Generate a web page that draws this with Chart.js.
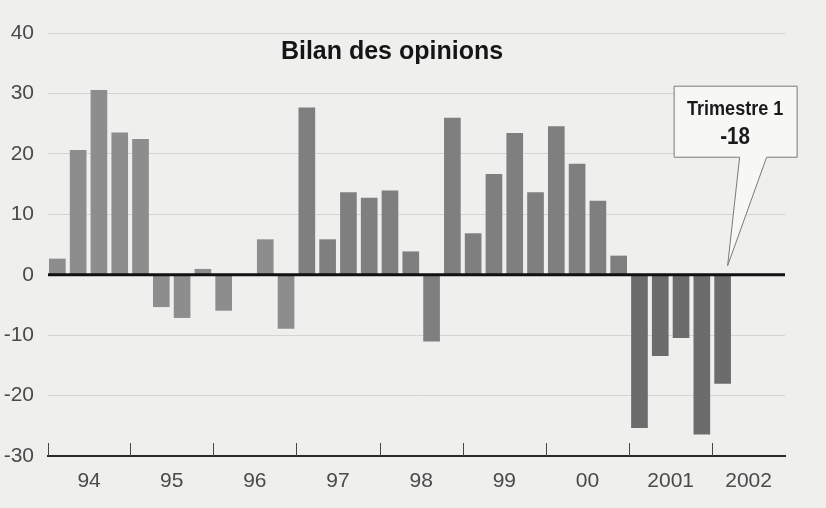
<!DOCTYPE html>
<html>
<head>
<meta charset="utf-8">
<title>Bilan des opinions</title>
<script src="https://cdn.jsdelivr.net/npm/chart.js@4/dist/chart.umd.min.js"></script>
<style>
  html, body { margin: 0; padding: 0; background: #efefed; }
  #wrap { width: 826px; height: 508px; }
</style>
</head>
<body>
<div id="wrap"><canvas id="barChart" width="826" height="508"></canvas></div>
<script>
'use strict'

// Quarters, 1994 T1 to 2002 T1
var quarters = [
  '94 T1', '94 T2', '94 T3', '94 T4',
  '95 T1', '95 T2', '95 T3', '95 T4',
  '96 T1', '96 T2', '96 T3', '96 T4',
  '97 T1', '97 T2', '97 T3', '97 T4',
  '98 T1', '98 T2', '98 T3', '98 T4',
  '99 T1', '99 T2', '99 T3', '99 T4',
  '00 T1', '00 T2', '00 T3', '00 T4',
  '2001 T1', '2001 T2', '2001 T3', '2001 T4',
  '2002 T1'
];

// Balance of opinions per quarter
var balance = [
  2.6, 20.6, 30.5, 23.5,
  22.4, -5.3, -7.1, 0.9,
  -5.9, 0, 5.8, -8.9,
  27.6, 5.8, 13.6, 12.7,
  13.9, 3.8, -11, 25.9,
  6.8, 16.6, 23.4, 13.6,
  24.5, 18.3, 12.2, 3.1,
  -25.3, -13.4, -10.4, -26.4,
  -18
];

// Year labels under the axis
var years = ['94', '95', '96', '97', '98', '99', '00', '2001', '2002'];

var yTicks = [-30, -20, -10, 0, 10, 20, 30, 40];

var calloutLines = ['Trimestre 1', '-18'];

var xMin = -0.45;
var xMax = 35;

// Year boundaries: every 4 quarters, plus the ends of the axis
var bounds = [xMin];
for (var i = 1; i < years.length; i++) bounds.push(i * 4 - 0.5);
bounds.push(xMax);

var yearCenters = years.map(function(_, i) { return (bounds[i] + bounds[i + 1]) / 2; });

function barColour(i) {
  if (i >= 28) return '#6c6c6c';
  if (i >= 12) return '#7f7f7f';
  return '#8d8d8d';
}

var font = "'Liberation Sans', Arial, sans-serif";

// draw text squeezed horizontally, like a condensed face
function narrowText(ctx, text, x, y, squeeze) {
  ctx.save();
  ctx.translate(x, y);
  ctx.scale(squeeze, 1);
  ctx.fillText(text, 0, 0);
  ctx.restore();
}

// Paper background, zero line, year ticks, title and callout
var decor = {
  id: 'decor',
  beforeDraw: function(chart) {
    var ctx = chart.ctx;
    ctx.save();
    ctx.fillStyle = '#efefed';
    ctx.fillRect(0, 0, chart.width, chart.height);
    ctx.restore();
  },
  afterDatasetsDraw: function(chart) {
    var ctx = chart.ctx;
    var x = chart.scales.x;
    var y = chart.scales.y;
    var area = chart.chartArea;

    ctx.save();

    // zero line
    ctx.strokeStyle = '#111';
    ctx.lineWidth = 3;
    ctx.beginPath();
    ctx.moveTo(area.left, y.getPixelForValue(0));
    ctx.lineTo(area.right, y.getPixelForValue(0));
    ctx.stroke();

    // year ticks, pointing up from the bottom axis
    ctx.strokeStyle = '#444';
    ctx.lineWidth = 1;
    for (var i = 0; i < bounds.length - 1; i++) {
      var px = Math.round(x.getPixelForValue(bounds[i])) + 0.5;
      ctx.beginPath();
      ctx.moveTo(px, area.bottom);
      ctx.lineTo(px, area.bottom - 13);
      ctx.stroke();
    }

    // title
    ctx.fillStyle = '#151515';
    ctx.font = 'bold 25px ' + font;
    ctx.textAlign = 'center';
    ctx.textBaseline = 'middle';
    ctx.fillText('Bilan des opinions', 392, 52);

    // callout pointing at the last quarter
    var tipX = x.getPixelForValue(quarters.length - 1) + 5;
    var tipY = y.getPixelForValue(0) - 9;
    var bx = tipX - 54, by = tipY - 180, bw = 123, bh = 71;

    ctx.fillStyle = '#f7f7f5';
    ctx.strokeStyle = '#7a7a7a';
    ctx.lineWidth = 1;
    ctx.beginPath();
    ctx.moveTo(bx + 0.5, by + 0.5);
    ctx.lineTo(bx + bw + 0.5, by + 0.5);
    ctx.lineTo(bx + bw + 0.5, by + bh + 0.5);
    ctx.lineTo(tipX + 39, by + bh + 0.5);
    ctx.lineTo(tipX, tipY);
    ctx.lineTo(tipX + 12, by + bh + 0.5);
    ctx.lineTo(bx + 0.5, by + bh + 0.5);
    ctx.closePath();
    ctx.fill();
    ctx.stroke();

    ctx.fillStyle = '#1a1a1a';
    ctx.font = 'bold 21px ' + font;
    narrowText(ctx, calloutLines[0], bx + bw / 2, by + 23, 0.86);
    ctx.font = 'bold 24px ' + font;
    narrowText(ctx, calloutLines[1], bx + bw / 2, by + 52, 0.86);

    ctx.restore();
  }
};

var chart = new Chart(document.getElementById('barChart'), {
  type: 'bar',
  data: {
    labels: quarters,
    datasets: [{
      label: 'Bilan des opinions',
      data: balance.map(function(v, i) { return { x: i, y: v }; }),
      backgroundColor: balance.map(function(_, i) { return barColour(i); }),
      borderWidth: 0,
      barThickness: 16
    }]
  },
  options: {
    responsive: false,
    animation: false,
    layout: { padding: { top: 33, right: 41, left: 0, bottom: 0 } },
    plugins: {
      legend: { display: false },
      tooltip: { enabled: false }
    },
    scales: {
      x: {
        type: 'linear',
        min: xMin,
        max: xMax,
        offset: false,
        grid: { display: false, drawTicks: false, offset: false },
        border: { display: true, color: '#2a2a2a', width: 2 },
        afterBuildTicks: function(scale) {
          scale.ticks = yearCenters.map(function(v) { return { value: v }; });
        },
        afterFit: function(scale) { scale.height = 52; },
        ticks: {
          autoSkip: false,
          maxRotation: 0,
          padding: 13,
          color: '#4a4a4a',
          font: { family: font, size: 21 },
          callback: function(value, index) { return years[index]; }
        }
      },
      y: {
        min: -30,
        max: 40,
        afterBuildTicks: function(scale) {
          scale.ticks = yTicks.map(function(v) { return { value: v }; });
        },
        afterFit: function(scale) { scale.width = 48; },
        border: { display: false },
        grid: {
          drawTicks: false,
          lineWidth: 1,
          color: function(c) {
            var v = c.tick && c.tick.value;
            if (v === 0 || v === -30) return 'rgba(0,0,0,0)';
            return '#d4d4d2';
          }
        },
        ticks: {
          padding: 14,
          color: '#4a4a4a',
          font: { family: font, size: 21 }
        }
      }
    }
  },
  plugins: [decor]
});
</script>
</body>
</html>
